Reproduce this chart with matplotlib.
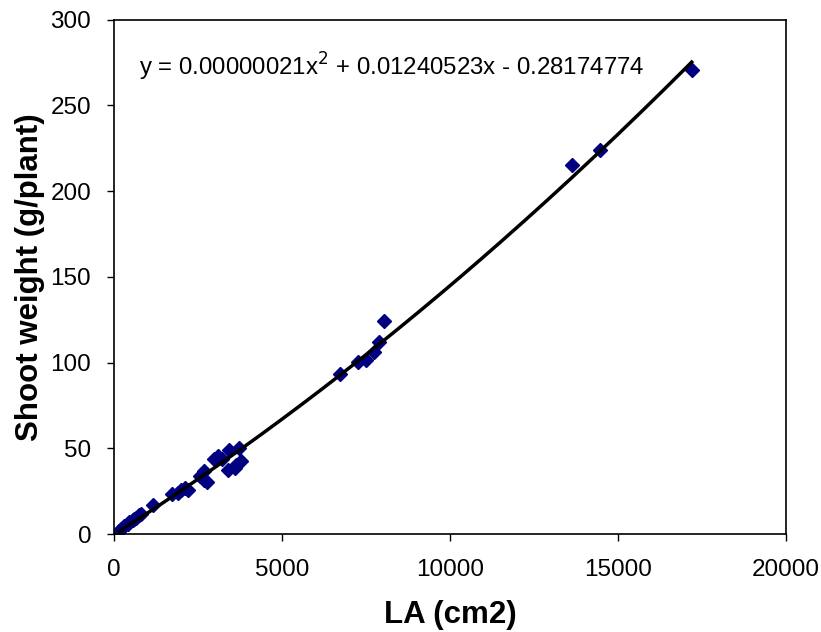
import numpy as np
import matplotlib
matplotlib.use("Agg")
import matplotlib.pyplot as plt

plt.rcParams['font.family'] = ['Liberation Sans', 'DejaVu Sans']

# Leaf area (cm2) vs shoot weight (g/plant)
la = [150, 200, 300, 400, 450, 550, 600, 650, 750, 800,
      1170, 1730, 1900, 2000, 2100, 2200, 2570, 2670, 2670, 2780,
      2980, 3090, 3200, 3400, 3430, 3590, 3630, 3710, 3790,
      6720, 7260, 7500, 7750, 7900, 8040, 13640, 14470, 17200]
shoot = [2, 3, 4.5, 6, 7, 8, 9, 9.5, 11, 11.5,
         17, 23.5, 24, 25.8, 27, 25.5, 34, 36.5, 31.5, 30.5,
         43.5, 45.8, 44, 37.5, 49, 38.5, 40, 50, 42.5,
         93.5, 100.3, 101.5, 106, 112, 124, 215, 224, 270.6]

# trendline coefficients as printed on the chart
coef = [0.00000021, 0.01240523, -0.28174774]
eq_text = "y = 0.00000021x$^2$ + 0.01240523x - 0.28174774"

fig = plt.figure(figsize=(8.21, 6.32), dpi=100)
ax = fig.add_axes([0.139, 0.155, 0.818, 0.814])

ax.plot(la, shoot, linestyle='none', marker='D', markersize=7.5,
        color='#000080', zorder=2)

xfit = np.linspace(min(la), max(la), 200)
ax.plot(xfit, np.polyval(coef, xfit), color='black', linewidth=2.5, zorder=3)

ax.text(0.037, 0.908, eq_text, transform=ax.transAxes, fontsize=17.3,
        ha='left', va='center')

ax.set_xlim(0, 20000)
ax.set_ylim(0, 300)
ax.set_xticks([0, 5000, 10000, 15000, 20000])
ax.set_yticks([0, 50, 100, 150, 200, 250, 300])
ax.tick_params(direction='out', length=5, width=1, labelsize=17.5)
ax.tick_params(axis='x', pad=13)
ax.tick_params(axis='y', pad=11.5)

for s in ax.spines.values():
    s.set_linewidth(1.2)
    s.set_color('black')

ax.set_xlabel("LA (cm2)", fontsize=22.5, fontweight='bold', labelpad=14)
ax.set_ylabel("Shoot weight (g/plant)", fontsize=22.5, fontweight='bold', labelpad=4)

fig.savefig("out.png", dpi=100)
